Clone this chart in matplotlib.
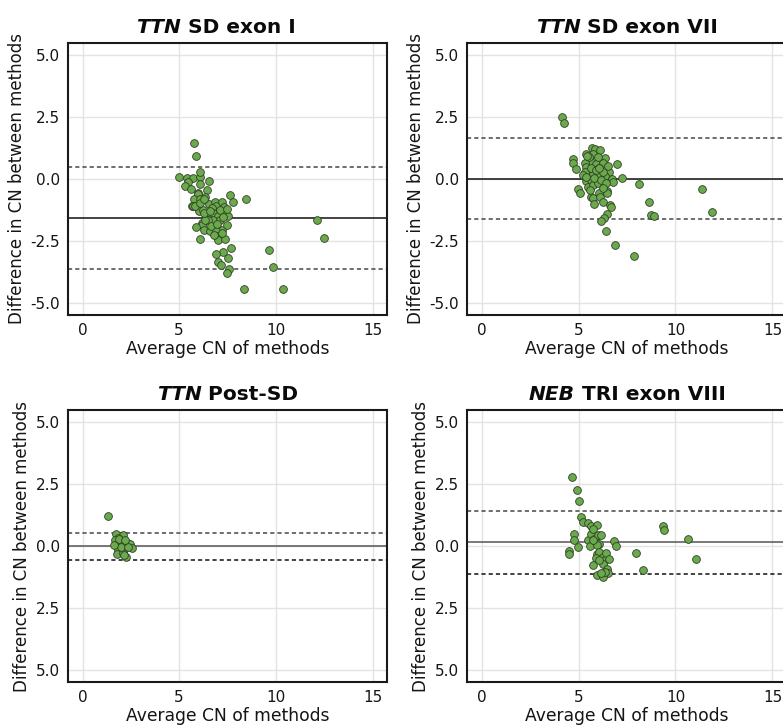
import matplotlib
matplotlib.use("Agg")
import matplotlib.pyplot as plt

plt.rcParams.update({
    "font.family": "DejaVu Sans",
    "axes.unicode_minus": False,
    "lines.scale_dashes": False,
})

# --- data --------------------------------------------------------------
TITLES_ITALIC = ["TTN", "TTN", "TTN", "NEB"]
TITLES_REST = [" SD exon I", " SD exon VII", " Post-SD", " TRI exon VIII"]

X_TICKS = [0, 5, 10, 15]
Y_TICKS = [5.0, 2.5, 0.0, -2.5, -5.0]
Y_LABELS_TOP = ["5.0", "2.5", "0.0", "-2.5", "-5.0"]
Y_LABELS_BOTTOM = ["5.0", "2.5", "0.0", "2.5", "5.0"]

# panel 1: TTN SD exon I
sd1_x = [5.78, 5.88, 5.00, 5.38, 5.72, 6.07, 6.10, 6.52, 5.48, 5.28, 5.60, 6.10,
         6.45, 5.98, 5.95, 5.78, 6.07, 6.36, 7.62, 7.76, 8.45, 5.64, 5.69, 6.00,
         6.24, 6.53, 6.84, 6.90, 7.19, 7.33, 7.36, 7.50, 6.69, 6.76, 6.41, 6.19,
         6.16, 5.86, 6.29, 6.09, 6.59, 6.93, 6.98, 7.02, 7.10, 7.22, 7.48, 6.90,
         7.02, 7.02, 7.36, 7.67, 7.26, 6.93, 7.55, 7.02, 7.14, 7.60, 7.48, 8.34,
         9.64, 9.83, 10.38, 12.12, 12.47, 6.76, 6.50, 7.10, 7.28, 6.67, 6.34, 6.81,
         7.24, 6.28, 5.81, 6.07, 6.28, 7.45, 6.60, 6.95]
sd1_y = [1.44, 0.94, 0.08, 0.05, 0.05, 0.08, 0.30, -0.07, -0.13, -0.28, -0.39, -0.21,
         -0.43, -0.58, -0.62, -0.79, -0.82, -0.74, -0.64, -0.94, -0.82, -1.09, -1.11, -1.28,
         -1.25, -1.01, -0.94, -1.11, -0.93, -1.15, -1.38, -1.49, -1.17, -1.38, -1.45, -1.76,
         -1.88, -1.96, -2.05, -2.43, -2.09, -1.96, -1.72, -1.50, -1.25, -2.08, -1.85, -2.09,
         -2.30, -2.48, -2.44, -2.79, -2.95, -3.03, -3.21, -3.34, -3.46, -3.64, -3.80, -4.44,
         -2.86, -3.54, -4.43, -1.66, -2.39, -1.65, -1.65, -1.65, -1.52, -1.92, -1.65, -2.25,
         -2.19, -1.38, -1.11, -0.98, -0.82, -1.20, -1.30, -1.80]
sd1_lines = [-1.58, 0.48, -3.63]

# panel 2: TTN SD exon VII
sd7_x = [4.13, 4.23, 4.71, 4.71, 4.85, 5.41, 5.70, 5.86, 6.11, 5.77, 6.34, 6.97,
         5.62, 5.31, 5.39, 5.91, 6.25, 6.59, 6.08, 5.57, 5.31, 5.77, 5.99, 6.34,
         6.73, 6.80, 7.23, 8.10, 5.39, 5.65, 5.91, 5.48, 5.74, 5.99, 4.97, 5.09,
         5.62, 5.74, 5.80, 6.04, 6.11, 6.25, 6.46, 6.49, 6.63, 6.66, 6.46, 6.30,
         6.18, 6.42, 6.87, 7.86, 8.61, 8.72, 8.90, 11.39, 11.87, 5.53, 5.99, 6.25,
         5.65, 5.22, 6.51, 5.82, 6.16, 6.42, 5.57, 6.25, 5.39, 5.91, 5.45, 6.05]
sd7_y = [2.51, 2.27, 0.79, 0.63, 0.39, 1.03, 1.26, 1.22, 1.17, 1.01, 0.85, 0.60,
         0.70, 0.63, 0.50, 0.60, 0.63, 0.30, 0.43, 0.30, 0.27, 0.20, 0.13, 0.13,
         0.00, -0.11, 0.05, -0.20, -0.08, -0.04, -0.11, -0.31, -0.24, -0.15, -0.40, -0.58,
         -0.71, -0.78, -1.01, -0.55, -0.74, -0.91, -0.47, -0.58, -1.05, -1.14, -1.42, -1.58,
         -1.68, -2.09, -2.68, -3.10, -0.94, -1.45, -1.49, -0.39, -1.33, 0.90, 0.90, 0.30,
         0.43, 0.16, 0.54, 0.03, -0.04, -0.17, -0.44, -0.38, 0.09, 0.36, 0.95, 0.45]
sd7_lines = [0.00, 1.64, -1.61]

# panel 3: TTN Post-SD
post_x = [1.33, 1.71, 2.07, 1.84, 1.67, 1.93, 2.28, 2.48, 2.55, 1.76, 2.02, 2.14,
          1.84, 1.79, 2.10, 2.24, 2.14, 1.97, 1.64, 2.36, 1.88, 2.19]
post_y = [1.22, 0.49, 0.45, 0.32, 0.23, 0.16, 0.12, 0.07, -0.07, 0.03, -0.01, -0.11,
          -0.17, -0.31, -0.27, -0.44, -0.37, -0.04, 0.03, -0.04, 0.29, 0.23]
post_lines = [0.00, 0.52, -0.55]

# panel 4: NEB TRI exon VIII
neb_x = [4.64, 4.90, 5.00, 5.12, 5.22, 5.48, 5.62, 5.94, 4.76, 4.79, 4.95, 4.50,
         4.53, 5.48, 5.57, 5.65, 5.74, 5.82, 5.91, 5.99, 6.16, 6.08, 5.94, 5.96,
         6.04, 5.91, 5.77, 5.96, 6.25, 6.34, 6.25, 6.42, 6.56, 6.46, 6.51, 6.28,
         6.34, 6.16, 6.82, 6.94, 7.96, 8.34, 9.35, 9.43, 10.63, 11.04, 6.08, 5.74]
neb_y = [2.79, 2.27, 1.82, 1.16, 0.96, 0.92, 0.79, 0.83, 0.47, 0.25, -0.05, -0.21,
         -0.31, 0.25, -0.01, 0.49, 0.70, 0.29, 0.16, 0.43, 0.43, 0.09, 0.03, -0.31,
         -0.24, -0.47, -0.78, -1.18, -0.44, -0.57, -0.74, -0.28, -0.53, -0.91, -1.11, -1.24,
         -1.04, -1.11, 0.19, 0.00, -0.27, -0.99, 0.82, 0.66, 0.29, -0.53, -0.57, 0.23]
neb_lines = [0.16, 1.43, -1.15]

PANELS = [
    (sd1_x, sd1_y, sd1_lines),
    (sd7_x, sd7_y, sd7_lines),
    (post_x, post_y, post_lines),
    (neb_x, neb_y, neb_lines),
]

# --- styling -----------------------------------------------------------
W, H = 783, 725
RECTS_PX = [(68, 43, 319, 272), (467, 43, 320, 272),
            (68, 410, 319, 272), (467, 410, 320, 272)]
TITLE_X = [0.465, 0.5, 0.5, 0.5]
MEAN_COLOURS = ["#111111", "#111111", "#555555", "#555555"]
UPPER_COLOURS = ["#555555", "#555555", "#555555", "#555555"]
LOWER_COLOURS = ["#555555", "#555555", "#222222", "#222222"]
POINT_FILL = "#6aaa4c"
POINT_EDGE = "#2f3f27"
TEXT = "#151515"

fig = plt.figure(figsize=(W / 100, H / 100), dpi=100)
axes = []
for i, (px, py, pw, ph) in enumerate(RECTS_PX):
    ax = fig.add_axes([px / W, 1 - (py + ph) / H, pw / W, ph / H])
    xs, ys, (mean, upper, lower) = PANELS[i]

    ax.set_xlim(-0.75, 15.75)
    ax.set_ylim(-5.5, 5.5)
    ax.set_xticks(X_TICKS)
    ax.set_yticks(Y_TICKS)
    ax.set_yticklabels(Y_LABELS_TOP if i < 2 else Y_LABELS_BOTTOM)
    ax.tick_params(length=0, labelsize=11, pad=6, colors=TEXT)
    ax.grid(True, color="#e3e3e3", linewidth=1.0)
    ax.set_axisbelow(True)
    for sp in ax.spines.values():
        sp.set_linewidth(1.5)
        sp.set_color("#1a1a1a")

    ax.axhline(mean, color=MEAN_COLOURS[i], linewidth=1.1, zorder=2)
    ax.axhline(upper, color=UPPER_COLOURS[i], linewidth=1.2,
               linestyle=(0, (3.0, 2.2)), zorder=2)
    ax.axhline(lower, color=LOWER_COLOURS[i], linewidth=1.2,
               linestyle=(0, (3.0, 2.2)), zorder=2)
    ax.scatter(xs, ys, s=31, facecolor=POINT_FILL, edgecolor=POINT_EDGE,
               linewidth=0.6, zorder=3)

    ax.set_xlabel("Average CN of methods", fontsize=12.3, labelpad=1,
                  color=TEXT)
    ax.set_ylabel("Difference in CN between methods", fontsize=12.0,
                  labelpad=3, color=TEXT)
    axes.append(ax)

# titles: italic gene name + bold remainder, centred as one string
title_parts = []
for i, ax in enumerate(axes):
    t1 = ax.text(0, 1.0, TITLES_ITALIC[i], transform=ax.transAxes,
                 fontsize=14.5, fontweight="bold", fontstyle="italic",
                 ha="left", va="bottom", color="#0a0a0a")
    t2 = ax.annotate(TITLES_REST[i], xy=(1, 0), xycoords=t1,
                     fontsize=14.5, fontweight="bold", ha="left", va="bottom",
                     color="#0a0a0a")
    title_parts.append((t1, t2))

fig.canvas.draw()
renderer = fig.canvas.get_renderer()
for i, ax in enumerate(axes):
    t1, t2 = title_parts[i]
    w = t1.get_window_extent(renderer).width + t2.get_window_extent(renderer).width
    ax_bb = ax.get_window_extent(renderer)
    x0 = TITLE_X[i] - (w / 2) / ax_bb.width
    y0 = 1.0 + 6 / ax_bb.height
    t1.set_position((x0, y0))

fig.savefig("out.png", dpi=100)
